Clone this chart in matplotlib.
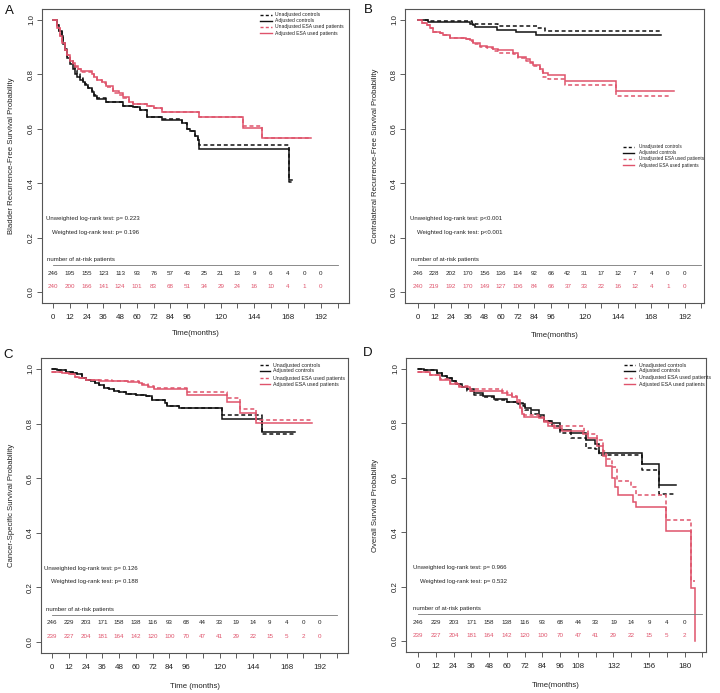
import matplotlib
matplotlib.use('Agg')
import matplotlib.pyplot as plt

plt.rcParams['font.family'] = ['Liberation Sans', 'DejaVu Sans']

RED = '#DF536B'
BLK = '#111111'
DASH = (0, (2.6, 1.8))

# ---------------- Panel A data ----------------
A_adj_ctrl_t = [0, 2.4, 4, 6, 7, 8.4, 10, 12, 14, 15.5, 17, 19, 21, 22.7, 25, 27.5, 29, 31, 38, 50, 57, 62, 67, 78, 92, 95.7, 98, 101.7, 103.6, 104.8, 169, 171]
A_adj_ctrl_s = [1.0, 0.98, 0.96, 0.94, 0.91, 0.888, 0.86, 0.839, 0.82, 0.80, 0.79, 0.778, 0.77, 0.76, 0.748, 0.735, 0.72, 0.71, 0.698, 0.683, 0.68, 0.668, 0.643, 0.633, 0.62, 0.60, 0.59, 0.575, 0.56, 0.525, 0.41, 0.41]
A_unadj_ctrl_t = [0, 2.4, 4, 6, 7, 8.4, 10, 12, 14, 15.5, 17, 19, 21, 22.7, 25, 27.5, 29, 31, 38, 50, 57, 62, 67, 78, 92, 95.7, 98, 101.7, 103.6, 104.8, 169, 172]
A_unadj_ctrl_s = [1.0, 0.98, 0.96, 0.945, 0.915, 0.893, 0.868, 0.848, 0.83, 0.815, 0.80, 0.785, 0.775, 0.765, 0.75, 0.738, 0.725, 0.712, 0.698, 0.685, 0.68, 0.668, 0.645, 0.635, 0.62, 0.60, 0.59, 0.575, 0.56, 0.542, 0.405, 0.405]
A_adj_esa_t = [0, 2.5, 4.8, 6.5, 8.4, 10, 12, 14, 15.5, 18, 20, 27.5, 29, 31, 35, 38, 43, 47, 50, 54, 57, 67, 72, 78, 104.8, 136, 150, 185]
A_adj_esa_s = [1.0, 0.97, 0.94, 0.915, 0.89, 0.87, 0.85, 0.84, 0.83, 0.82, 0.813, 0.80, 0.79, 0.78, 0.77, 0.757, 0.74, 0.73, 0.717, 0.70, 0.69, 0.685, 0.675, 0.66, 0.642, 0.603, 0.567, 0.567]
A_unadj_esa_t = [0, 2.5, 4.8, 6.5, 8.4, 10, 12, 14, 15.5, 18, 20, 27.5, 29, 31, 35, 38, 43, 47, 50, 54, 57, 67, 72, 78, 104.8, 136, 150, 185]
A_unadj_esa_s = [1.0, 0.97, 0.94, 0.915, 0.89, 0.87, 0.85, 0.838, 0.828, 0.818, 0.81, 0.80, 0.79, 0.78, 0.768, 0.752, 0.732, 0.725, 0.712, 0.70, 0.69, 0.683, 0.675, 0.662, 0.645, 0.612, 0.567, 0.567]
A_risk_ctrl = [246, 195, 155, 123, 113, 93, 76, 57, 43, 25, 21, 13, 9, 6, 4, 0, 0]
A_risk_esa = [240, 200, 166, 141, 124, 101, 83, 68, 51, 34, 29, 24, 16, 10, 4, 1, 0]
A_pvals = ['p= 0.223', 'p= 0.196']

# ---------------- Panel B data ----------------
B_adj_ctrl_t = [0, 7.7, 37.6, 39.5, 41, 56.7, 71, 85, 174.8]
B_adj_ctrl_s = [1.0, 0.993, 0.985, 0.98, 0.975, 0.963, 0.955, 0.945, 0.945]
B_unadj_ctrl_t = [0, 7.7, 38.8, 41, 58, 85.5, 91.5, 175]
B_unadj_ctrl_s = [1.0, 0.995, 0.99, 0.985, 0.977, 0.97, 0.96, 0.96]
B_adj_esa_t = [0, 2.9, 6.5, 8.9, 11, 16, 18.4, 23, 35, 37.6, 40, 44.8, 49.6, 54, 58, 68.7, 72.3, 78, 80.7, 83, 87.9, 89.8, 94, 105.8, 142.4, 184.3]
B_adj_esa_s = [1.0, 0.99, 0.98, 0.97, 0.955, 0.95, 0.943, 0.935, 0.93, 0.925, 0.915, 0.905, 0.90, 0.892, 0.888, 0.88, 0.865, 0.855, 0.845, 0.835, 0.82, 0.805, 0.797, 0.777, 0.738, 0.738]
B_unadj_esa_t = [0, 2.9, 6.5, 8.9, 11, 16, 18.4, 23, 35, 37.6, 40, 44.8, 49.6, 54, 58, 68.7, 72.3, 78, 80.7, 83, 87.9, 89.8, 94, 105.8, 142.4, 182.4]
B_unadj_esa_s = [1.0, 0.99, 0.98, 0.97, 0.955, 0.95, 0.943, 0.935, 0.93, 0.922, 0.91, 0.902, 0.895, 0.887, 0.878, 0.875, 0.86, 0.85, 0.84, 0.83, 0.812, 0.79, 0.782, 0.762, 0.72, 0.72]
B_risk_ctrl = [246, 228, 202, 170, 156, 136, 114, 92, 66, 42, 31, 17, 12, 7, 4, 0, 0]
B_risk_esa = [240, 219, 192, 170, 149, 127, 106, 84, 66, 37, 33, 22, 16, 12, 4, 1, 0]
B_pvals = ['p<0.001', 'p<0.001']

# ---------------- Panel C data ----------------
C_adj_ctrl_t = [0, 3.6, 9.6, 15, 18, 21.5, 24.5, 27.5, 30.5, 33.5, 37, 40.7, 44, 47.8, 52.6, 60, 67, 71.8, 81, 82.5, 91, 121.5, 150.7, 174]
C_adj_ctrl_s = [1.0, 0.995, 0.99, 0.985, 0.98, 0.965, 0.96, 0.955, 0.948, 0.94, 0.932, 0.925, 0.92, 0.915, 0.91, 0.903, 0.9, 0.887, 0.876, 0.866, 0.858, 0.817, 0.77, 0.77]
C_unadj_ctrl_t = [0, 3.6, 9.6, 15, 18, 21.5, 24.5, 27.5, 30.5, 33.5, 37, 40.7, 44, 47.8, 52.6, 60, 67, 71.8, 81, 82.5, 91, 121.5, 150.7, 174]
C_unadj_ctrl_s = [1.0, 0.995, 0.99, 0.985, 0.98, 0.965, 0.96, 0.955, 0.948, 0.94, 0.932, 0.925, 0.92, 0.915, 0.91, 0.903, 0.9, 0.887, 0.876, 0.866, 0.858, 0.833, 0.762, 0.762]
C_adj_esa_t = [0, 7, 12, 16, 19, 24, 33.5, 43, 54, 62, 64.6, 69, 73, 96.4, 125.6, 134.4, 146.4, 186.6]
C_adj_esa_s = [0.99, 0.985, 0.98, 0.972, 0.967, 0.96, 0.957, 0.955, 0.952, 0.95, 0.942, 0.935, 0.928, 0.905, 0.88, 0.838, 0.803, 0.803]
C_unadj_esa_t = [0, 7, 12, 16, 19, 24, 33.5, 43, 54, 62, 64.6, 69, 73, 96.4, 125.6, 134.4, 146.4, 186.6]
C_unadj_esa_s = [0.99, 0.985, 0.98, 0.972, 0.967, 0.96, 0.958, 0.956, 0.954, 0.952, 0.944, 0.937, 0.93, 0.915, 0.892, 0.855, 0.813, 0.813]
C_risk_ctrl = [246, 229, 203, 171, 158, 138, 116, 93, 68, 44, 33, 19, 14, 9, 4, 0, 0]
C_risk_esa = [239, 227, 204, 181, 164, 142, 120, 100, 70, 47, 41, 29, 22, 15, 5, 2, 0]
C_pvals = ['p= 0.126', 'p= 0.188']

# ---------------- Panel D data ----------------
D_adj_ctrl_t = [0, 4, 6, 12.8, 16, 19.6, 23, 26, 30, 33, 37.6, 44, 51, 60, 67, 71, 72.5, 76, 81.5, 85, 90.5, 96, 103, 113.6, 119.7, 122.4, 151, 162.5, 174.4]
D_adj_ctrl_s = [1.0, 0.997, 0.995, 0.985, 0.975, 0.965, 0.955, 0.945, 0.935, 0.925, 0.91, 0.9, 0.888, 0.88, 0.875, 0.87, 0.855, 0.848, 0.83, 0.81, 0.8, 0.775, 0.765, 0.74, 0.725, 0.69, 0.65, 0.572, 0.572]
D_unadj_ctrl_t = [0, 4, 6, 12.8, 16, 19.6, 23, 26, 30, 33, 37.6, 44, 51, 60, 67, 71, 72.5, 76, 81.5, 85, 90.5, 96, 103, 113.6, 119.7, 122.4, 151, 162.5, 172.6]
D_unadj_ctrl_s = [1.0, 0.997, 0.995, 0.985, 0.975, 0.965, 0.955, 0.945, 0.935, 0.92, 0.905, 0.895, 0.885, 0.877, 0.87, 0.865, 0.85, 0.835, 0.825, 0.81, 0.79, 0.765, 0.745, 0.71, 0.705, 0.685, 0.628, 0.54, 0.54]
D_adj_esa_t = [0, 8.3, 15, 21.8, 27.5, 35.3, 46.6, 56.7, 60, 63.5, 67, 68.6, 70, 71.3, 81.5, 85, 88, 91.6, 97, 111.4, 115, 121, 125, 127, 131, 133, 135, 145, 147, 167.6, 184.5, 186.8]
D_adj_esa_s = [0.99, 0.978, 0.96, 0.945, 0.935, 0.92, 0.918, 0.913, 0.905, 0.895, 0.88, 0.855, 0.835, 0.825, 0.82, 0.805, 0.79, 0.783, 0.772, 0.76, 0.745, 0.718, 0.68, 0.645, 0.6, 0.565, 0.535, 0.512, 0.493, 0.405, 0.195, 0.0]
D_unadj_esa_t = [0, 8.3, 15, 21.8, 27.5, 35.3, 46.6, 56.7, 60, 63.5, 67, 68.6, 70, 71.3, 81.5, 85, 88, 91.6, 97, 112, 115, 121, 125, 127, 131, 134.3, 143.8, 147, 167.6, 184.5, 186.8]
D_unadj_esa_s = [0.99, 0.978, 0.962, 0.947, 0.937, 0.925, 0.925, 0.92, 0.91, 0.9, 0.885, 0.86, 0.84, 0.83, 0.825, 0.81, 0.8, 0.792, 0.792, 0.772, 0.76, 0.74, 0.7, 0.67, 0.64, 0.59, 0.565, 0.535, 0.445, 0.222, 0.222]
D_risk_ctrl = [246, 229, 203, 171, 158, 138, 116, 93, 68, 44, 33, 19, 14, 9, 4, 0]
D_risk_esa = [239, 227, 204, 181, 164, 142, 120, 100, 70, 47, 41, 29, 22, 15, 5, 2]
D_pvals = ['p= 0.966', 'p= 0.532']

legend_labels = ['Unadjusted controls', 'Adjusted controls',
                 'Unadjusted ESA used patients', 'Adjusted ESA used patients']

fig = plt.figure(figsize=(7.2, 6.93), dpi=100)


def add_ax(x0, y0, x1, y1):
    return fig.add_axes([x0 / 720, 1 - y1 / 693, (x1 - x0) / 720, (y1 - y0) / 693])


panels = [
    dict(letter='A', box=(42, 9, 349, 303), lpos=(9, 11), xlim=(-8.1, 212.1), tmax=204,
         shown=[0, 12, 24, 36, 48, 60, 72, 84, 96, 120, 144, 168, 192],
         ylabel='Bladder Recurrence-Free Survival Probability', xlabel='Time(months)',
         curves=[(A_unadj_ctrl_t, A_unadj_ctrl_s, BLK, True), (A_adj_ctrl_t, A_adj_ctrl_s, BLK, False),
                 (A_unadj_esa_t, A_unadj_esa_s, RED, True), (A_adj_esa_t, A_adj_esa_s, RED, False)],
         risk=(A_risk_ctrl, A_risk_esa), pvals=A_pvals, ptx=(-5.5, -0.7), hdrx=-4.8, line_end=204,
         leg=(0.71, 0.749, 0.759, [0.98, 0.96, 0.94, 0.918]), legfs=3.65, ylx=-0.099, xly=-0.105),
    dict(letter='B', box=(405, 9, 704, 303), lpos=(368, 10), xlim=(-9.1, 205.9), tmax=204,
         shown=[0, 12, 24, 36, 48, 60, 72, 84, 96, 120, 144, 168, 192],
         ylabel='Contralateral Recurrence-Free Survival Probability', xlabel='Time(months)',
         curves=[(B_unadj_ctrl_t, B_unadj_ctrl_s, BLK, True), (B_adj_ctrl_t, B_adj_ctrl_s, BLK, False),
                 (B_unadj_esa_t, B_unadj_esa_s, RED, True), (B_adj_esa_t, B_adj_esa_s, RED, False)],
         risk=(B_risk_ctrl, B_risk_esa), pvals=B_pvals, ptx=(-5.5, -0.7), hdrx=-4.8, line_end=204,
         leg=(0.729, 0.766, 0.781, [0.532, 0.511, 0.49, 0.469]), legfs=3.4, ylx=-0.1, xly=-0.109),
    dict(letter='C', box=(41, 358, 348, 653), lpos=(8, 355), xlim=(-8.1, 212.1), tmax=204,
         shown=[0, 12, 24, 36, 48, 60, 72, 84, 96, 120, 144, 168, 192],
         ylabel='Cancer-Specific Survival Probability', xlabel='Time (months)',
         curves=[(C_unadj_ctrl_t, C_unadj_ctrl_s, BLK, True), (C_adj_ctrl_t, C_adj_ctrl_s, BLK, False),
                 (C_unadj_esa_t, C_unadj_esa_s, RED, True), (C_adj_esa_t, C_adj_esa_s, RED, False)],
         risk=(C_risk_ctrl, C_risk_esa), pvals=C_pvals, ptx=(-6.0, -1.2), hdrx=-4.8, line_end=204,
         leg=(0.713, 0.746, 0.756, [0.976, 0.956, 0.932, 0.911]), legfs=3.75, ylx=-0.095, xly=-0.112),
    dict(letter='D', box=(406, 358, 706, 652), lpos=(368, 353), xlim=(-8.1, 194.5), tmax=192,
         shown=[0, 12, 24, 36, 48, 60, 72, 84, 96, 108, 132, 156, 180],
         ylabel='Overall Survival Probability', xlabel='Time(months)',
         curves=[(D_unadj_ctrl_t, D_unadj_ctrl_s, BLK, True), (D_adj_ctrl_t, D_adj_ctrl_s, BLK, False),
                 (D_unadj_esa_t, D_unadj_esa_s, RED, True), (D_adj_esa_t, D_adj_esa_s, RED, False)],
         risk=(D_risk_ctrl, D_risk_esa), pvals=D_pvals, ptx=(-3.4, 1.1), hdrx=-3.4, line_end=192,
         leg=(0.727, 0.763, 0.778, [0.976, 0.956, 0.932, 0.911]), legfs=3.8, ylx=-0.103, xly=-0.113),
]

for p in panels:
    ax = add_ax(*p['box'])
    ax.set_xlim(*p['xlim'])
    ax.set_ylim(-0.04, 1.04)
    for t, s, c, dashed in p['curves']:
        ax.step(t, s, where='post', color=c, lw=1.1,
                linestyle=DASH if dashed else '-', solid_joinstyle='miter')
    ticks = list(range(0, p['tmax'] + 1, 12))
    ax.set_xticks(ticks)
    ax.set_xticklabels([str(v) if v in p['shown'] else '' for v in ticks])
    yt = [0.0, 0.2, 0.4, 0.6, 0.8, 1.0]
    ax.set_yticks(yt)
    ax.set_yticklabels(['%.1f' % v for v in yt], rotation=90, va='center')
    ax.tick_params(axis='both', direction='out', length=3.6, width=0.6, color='#444444',
                   labelsize=5.7, labelcolor='#222222')
    ax.tick_params(axis='x', pad=4)
    ax.tick_params(axis='y', pad=1.5)
    for sp in ax.spines.values():
        sp.set_color('#555555')
        sp.set_linewidth(0.8)
    ax.set_ylabel(p['ylabel'], fontsize=5.6, color='#222222', va='center')
    ax.yaxis.set_label_coords(p['ylx'], 0.5)
    ax.set_xlabel(p['xlabel'], fontsize=5.6, color='#222222', va='center')
    ax.xaxis.set_label_coords(0.5, p['xly'])

    # log-rank texts
    ax.text(p['ptx'][0], 0.27, 'Unweighted log-rank test: ' + p['pvals'][0], fontsize=4.3,
            ha='left', va='center', color='#222222')
    ax.text(p['ptx'][1], 0.22, 'Weighted log-rank test: ' + p['pvals'][1], fontsize=4.3,
            ha='left', va='center', color='#222222')
    # at-risk table
    ax.text(p['hdrx'], 0.121, 'number of at-risk patients', fontsize=4.3, ha='left', va='center',
            color='#222222')
    ax.plot([0, p['line_end']], [0.1, 0.1], color='#777777', lw=0.6)
    rc, re = p['risk']
    for i, v in enumerate(rc):
        ax.text(12 * i, 0.07, str(v), fontsize=4.5, ha='center', va='center', color='#222222')
    for i, v in enumerate(re):
        ax.text(12 * i, 0.019, str(v), fontsize=4.5, ha='center', va='center', color=RED)

    # legend
    lx0, lx1, tx, ys = p['leg']
    styles = [(BLK, True), (BLK, False), (RED, True), (RED, False)]
    for (c, dashed), yy, lab in zip(styles, ys, legend_labels):
        ax.plot([lx0, lx1], [yy, yy], transform=ax.transAxes, color=c, lw=1.0,
                linestyle=(0, (2.2, 1.6)) if dashed else '-', clip_on=False)
        ax.text(tx, yy, lab, transform=ax.transAxes, fontsize=p['legfs'], ha='left', va='center',
                color='#222222')

    fig.text(p['lpos'][0] / 720, 1 - p['lpos'][1] / 693, p['letter'], fontsize=9.5,
             ha='center', va='center', color='#111111')

fig.savefig('out.png', dpi=100)
